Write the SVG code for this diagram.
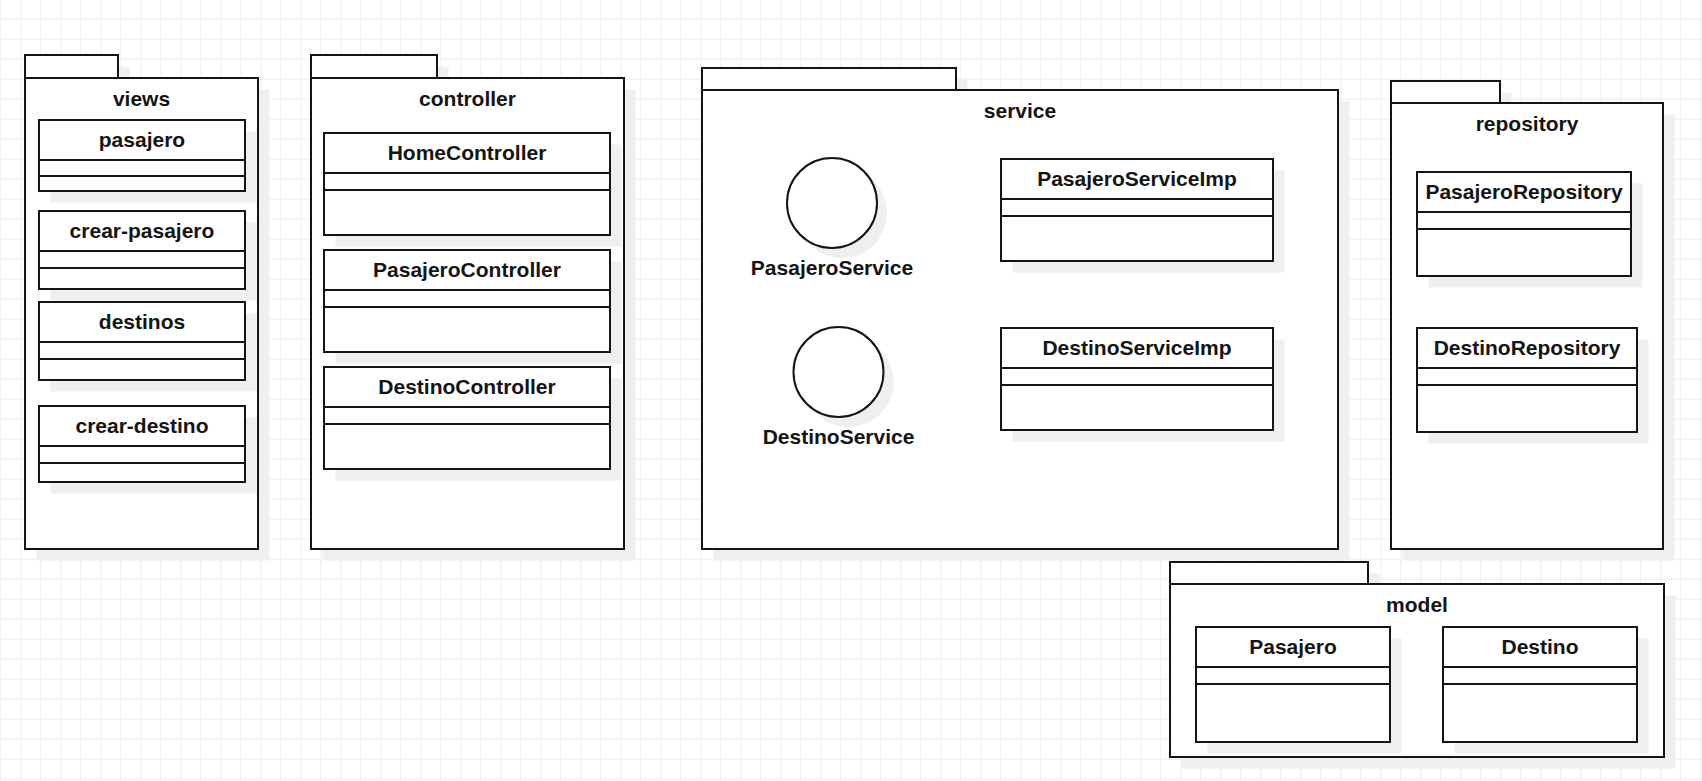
<svg xmlns="http://www.w3.org/2000/svg" width="1702" height="781" viewBox="0 0 1702 781">
<style>
  .ln{fill:#fff;stroke:#141414;stroke-width:2}
  .dv{stroke:#141414;stroke-width:2;fill:none}
  .sh{fill:#efefef;stroke:none}
  .t{font-family:"Liberation Sans",Arial,sans-serif;font-weight:bold;font-size:21px;fill:#141414;text-anchor:middle}
</style>
<defs>
  <pattern id="grid" width="20" height="20" patternUnits="userSpaceOnUse">
    <path d="M0.7 0V20M0 19.3H20" stroke="#f2f2f2" stroke-width="1.4" fill="none"/>
  </pattern>
</defs>
<rect width="1702" height="781" fill="#fff"/>
<rect width="1702" height="781" fill="url(#grid)"/>

<!-- views package -->
<g id="pkg-views">
  <rect class="sh" x="36.5" y="66.5" width="93" height="23"/>
  <rect class="sh" x="36.5" y="89.5" width="233" height="471"/>
  <rect class="ln" x="25" y="55" width="93" height="23"/>
  <rect class="ln" x="25" y="78" width="233" height="471"/>
  <text class="t" x="141.5" y="106">views</text>
</g>
<g id="cls-pasajero-view">
  <rect class="sh" x="50.5" y="131.5" width="206" height="71"/>
  <rect class="ln" x="39" y="120" width="206" height="71"/>
  <path class="dv" d="M39 160H245M39 176H245"/>
  <text class="t" x="142" y="147">pasajero</text>
</g>
<g id="cls-crear-pasajero">
  <rect class="sh" x="50.5" y="222.5" width="206" height="78"/>
  <rect class="ln" x="39" y="211" width="206" height="78"/>
  <path class="dv" d="M39 251H245M39 268H245"/>
  <text class="t" x="142" y="238">crear-pasajero</text>
</g>
<g id="cls-destinos">
  <rect class="sh" x="50.5" y="313.5" width="206" height="78"/>
  <rect class="ln" x="39" y="302" width="206" height="78"/>
  <path class="dv" d="M39 342H245M39 359H245"/>
  <text class="t" x="142" y="329">destinos</text>
</g>
<g id="cls-crear-destino">
  <rect class="sh" x="50.5" y="417.5" width="206" height="76"/>
  <rect class="ln" x="39" y="406" width="206" height="76"/>
  <path class="dv" d="M39 446H245M39 463H245"/>
  <text class="t" x="142" y="433">crear-destino</text>
</g>

<!-- controller package -->
<g id="pkg-controller">
  <rect class="sh" x="322.5" y="66.5" width="126" height="23"/>
  <rect class="sh" x="322.5" y="89.5" width="313" height="471"/>
  <rect class="ln" x="311" y="55" width="126" height="23"/>
  <rect class="ln" x="311" y="78" width="313" height="471"/>
  <text class="t" x="467.5" y="106">controller</text>
</g>
<g id="cls-HomeController">
  <rect class="sh" x="335.5" y="144.5" width="286" height="102"/>
  <rect class="ln" x="324" y="133" width="286" height="102"/>
  <path class="dv" d="M324 173H610M324 190H610"/>
  <text class="t" x="467" y="160">HomeController</text>
</g>
<g id="cls-PasajeroController">
  <rect class="sh" x="335.5" y="261.5" width="286" height="102"/>
  <rect class="ln" x="324" y="250" width="286" height="102"/>
  <path class="dv" d="M324 290H610M324 307H610"/>
  <text class="t" x="467" y="277">PasajeroController</text>
</g>
<g id="cls-DestinoController">
  <rect class="sh" x="335.5" y="378.5" width="286" height="102"/>
  <rect class="ln" x="324" y="367" width="286" height="102"/>
  <path class="dv" d="M324 407H610M324 424H610"/>
  <text class="t" x="467" y="394">DestinoController</text>
</g>

<!-- service package -->
<g id="pkg-service">
  <rect class="sh" x="713.5" y="79.5" width="254" height="22"/>
  <rect class="sh" x="713.5" y="101.5" width="636" height="459"/>
  <rect class="ln" x="702" y="68" width="254" height="22"/>
  <rect class="ln" x="702" y="90" width="636" height="459"/>
  <text class="t" x="1020" y="118">service</text>
</g>
<g id="if-PasajeroService">
  <circle class="sh" cx="842" cy="213" r="45"/>
  <circle class="ln" cx="832" cy="203" r="45"/>
  <text class="t" x="832" y="275">PasajeroService</text>
</g>
<g id="if-DestinoService">
  <circle class="sh" cx="848.5" cy="382" r="45"/>
  <circle class="ln" cx="838.5" cy="372" r="45"/>
  <text class="t" x="838.5" y="444">DestinoService</text>
</g>
<g id="cls-PasajeroServiceImp">
  <rect class="sh" x="1012.5" y="170.5" width="272" height="102"/>
  <rect class="ln" x="1001" y="159" width="272" height="102"/>
  <path class="dv" d="M1001 199H1273M1001 216H1273"/>
  <text class="t" x="1137" y="186">PasajeroServiceImp</text>
</g>
<g id="cls-DestinoServiceImp">
  <rect class="sh" x="1012.5" y="339.5" width="272" height="102"/>
  <rect class="ln" x="1001" y="328" width="272" height="102"/>
  <path class="dv" d="M1001 368H1273M1001 385H1273"/>
  <text class="t" x="1137" y="355">DestinoServiceImp</text>
</g>

<!-- repository package -->
<g id="pkg-repository">
  <rect class="sh" x="1402.5" y="92.5" width="109" height="22"/>
  <rect class="sh" x="1402.5" y="114.5" width="272" height="446"/>
  <rect class="ln" x="1391" y="81" width="109" height="22"/>
  <rect class="ln" x="1391" y="103" width="272" height="446"/>
  <text class="t" x="1527" y="131">repository</text>
</g>
<g id="cls-PasajeroRepository">
  <rect class="sh" x="1428.5" y="183.5" width="214" height="104"/>
  <rect class="ln" x="1417" y="172" width="214" height="104"/>
  <path class="dv" d="M1417 212H1631M1417 229H1631"/>
  <text class="t" x="1524" y="199">PasajeroRepository</text>
</g>
<g id="cls-DestinoRepository">
  <rect class="sh" x="1428.5" y="339.5" width="220" height="104"/>
  <rect class="ln" x="1417" y="328" width="220" height="104"/>
  <path class="dv" d="M1417 368H1637M1417 385H1637"/>
  <text class="t" x="1527" y="355">DestinoRepository</text>
</g>

<!-- model package -->
<g id="pkg-model">
  <rect class="sh" x="1181.5" y="573.5" width="198" height="22"/>
  <rect class="sh" x="1181.5" y="595.5" width="494" height="173"/>
  <rect class="ln" x="1170" y="562" width="198" height="22"/>
  <rect class="ln" x="1170" y="584" width="494" height="173"/>
  <text class="t" x="1417" y="612">model</text>
</g>
<g id="cls-Pasajero">
  <rect class="sh" x="1207.5" y="638.5" width="194" height="115"/>
  <rect class="ln" x="1196" y="627" width="194" height="115"/>
  <path class="dv" d="M1196 667H1390M1196 684H1390"/>
  <text class="t" x="1293" y="654">Pasajero</text>
</g>
<g id="cls-Destino">
  <rect class="sh" x="1454.5" y="638.5" width="194" height="115"/>
  <rect class="ln" x="1443" y="627" width="194" height="115"/>
  <path class="dv" d="M1443 667H1637M1443 684H1637"/>
  <text class="t" x="1540" y="654">Destino</text>
</g>

<g id="connectors"></g>
</svg>
